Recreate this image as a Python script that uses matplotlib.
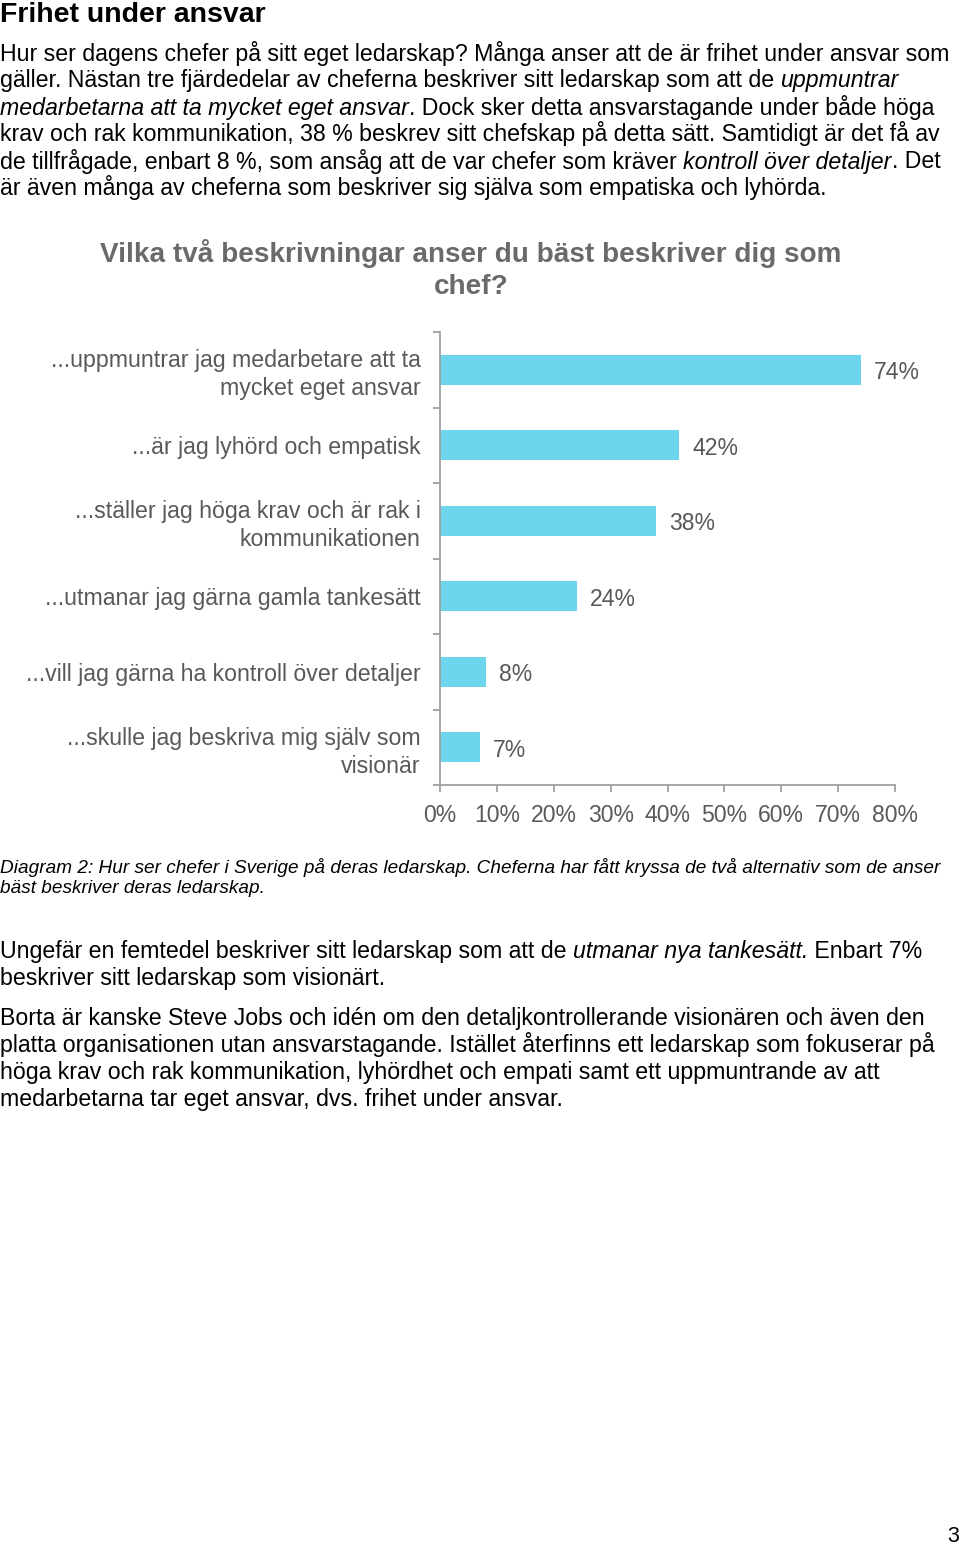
import matplotlib
matplotlib.use("Agg")
import matplotlib.pyplot as plt

plt.rcParams['font.family'] = ['Liberation Sans', 'DejaVu Sans']

# chart data
categories = [
    "...uppmuntrar jag medarbetare att ta\nmycket eget ansvar",
    "...är jag lyhörd och empatisk",
    "...ställer jag höga krav och är rak i\nkommunikationen",
    "...utmanar jag gärna gamla tankesätt",
    "...vill jag gärna ha kontroll över detaljer",
    "...skulle jag beskriva mig själv som\nvisionär",
]
values = [74, 42, 38, 24, 8, 7]
xticks = [0, 10, 20, 30, 40, 50, 60, 70, 80]

chart_title = "Vilka två beskrivningar anser du bäst beskriver dig som\nchef?"
heading = "Frihet under ansvar"
intro_lines = [
    [("Hur ser dagens chefer på sitt eget ledarskap? Många anser att de är frihet under ansvar som", "normal")],
    [("gäller. Nästan tre fjärdedelar av cheferna beskriver sitt ledarskap som att de ", "normal"),
     ("uppmuntrar", "italic")],
    [("medarbetarna att ta mycket eget ansvar", "italic"),
     (". Dock sker detta ansvarstagande under både höga", "normal")],
    [("krav och rak kommunikation, 38 % beskrev sitt chefskap på detta sätt. Samtidigt är det få av", "normal")],
    [("de tillfrågade, enbart 8 %, som ansåg att de var chefer som kräver ", "normal"),
     ("kontroll över detaljer", "italic"), (". Det", "normal")],
    [("är även många av cheferna som beskriver sig själva som empatiska och lyhörda.", "normal")],
]
caption = ("Diagram 2: Hur ser chefer i Sverige på deras ledarskap. Cheferna har fått kryssa de två alternativ som de anser\n"
           "bäst beskriver deras ledarskap.")
outro_lines = [
    [("Ungefär en femtedel beskriver sitt ledarskap som att de ", "normal"),
     ("utmanar nya tankesätt.", "italic"), (" Enbart 7%", "normal")],
    [("beskriver sitt ledarskap som visionärt.", "normal")],
    None,
    [("Borta är kanske Steve Jobs och idén om den detaljkontrollerande visionären och även den", "normal")],
    [("platta organisationen utan ansvarstagande. Istället återfinns ett ledarskap som fokuserar på", "normal")],
    [("höga krav och rak kommunikation, lyhördhet och empati samt ett uppmuntrande av att", "normal")],
    [("medarbetarna tar eget ansvar, dvs. frihet under ansvar.", "normal")],
]

W, H = 960, 1546
fig = plt.figure(figsize=(W / 100, H / 100), dpi=100)
renderer = fig.canvas.get_renderer()


def fx(x):
    return x / W


def fy(y):
    return 1 - y / H


def rich_line(x, y, segments, size=16.65):
    for txt, style in segments:
        t = fig.text(fx(x), fy(y), txt, fontsize=size, style=style,
                     va='baseline', ha='left', color='black')
        x += t.get_window_extent(renderer).width


fig.text(fx(0), fy(21.5), heading, fontsize=20.5, fontweight='bold', va='baseline')

for i, line in enumerate(intro_lines):
    rich_line(0, 60.5 + 27 * i, line)

# bar chart
ax = fig.add_axes([fx(440), fy(785), fx(895) - fx(440), (785 - 332) / H])
pos = list(range(len(categories)))
ax.barh(pos, values, height=0.4, color='#6DD5EC')
ax.set_ylim(len(categories) - 0.5, -0.5)
ax.set_xlim(0, 80)
for p, v in zip(pos, values):
    ax.annotate(f"{v}%", (v, p), xytext=(9.5, -2), textcoords='offset points',
                va='center', ha='left', fontsize=16.6, color='#595959')

ax.set_xticks(xticks)
ax.set_xticklabels([f"{t}%" for t in xticks])
ax.set_yticks(pos)
ax.set_yticklabels(categories)
ax.set_yticks([p - 0.5 for p in pos] + [len(pos) - 0.5], minor=True)
ax.tick_params(axis='y', which='major', length=0, pad=14, labelsize=16.7, labelcolor='#595959')
ax.tick_params(axis='y', which='minor', length=5, color='#a0a0a0', width=1.3)
ax.tick_params(axis='x', length=5, color='#a0a0a0', width=1.3, pad=9,
               labelsize=16.6, labelcolor='#595959')
for lbl in ax.get_yticklabels():
    lbl.set_linespacing(1.27)
for s in ['top', 'right']:
    ax.spines[s].set_visible(False)
for s in ['left', 'bottom']:
    ax.spines[s].set_color('#a0a0a0')
    ax.spines[s].set_linewidth(1.3)

fig.text(fx(471), fy(270), chart_title, fontsize=20.1, fontweight='bold',
         color='#6a6a6a', ha='center', va='center', linespacing=1.3)

fig.text(fx(0), fy(893), caption, fontsize=13.7, style='italic',
         va='baseline', linespacing=1.25)

y = 958
for line in outro_lines:
    if line is None:
        y += 13
        continue
    rich_line(0, y, line)
    y += 27

fig.text(fx(959), fy(1542), "3", fontsize=15.5, ha='right', va='baseline')

fig.savefig("out.png", dpi=100)
